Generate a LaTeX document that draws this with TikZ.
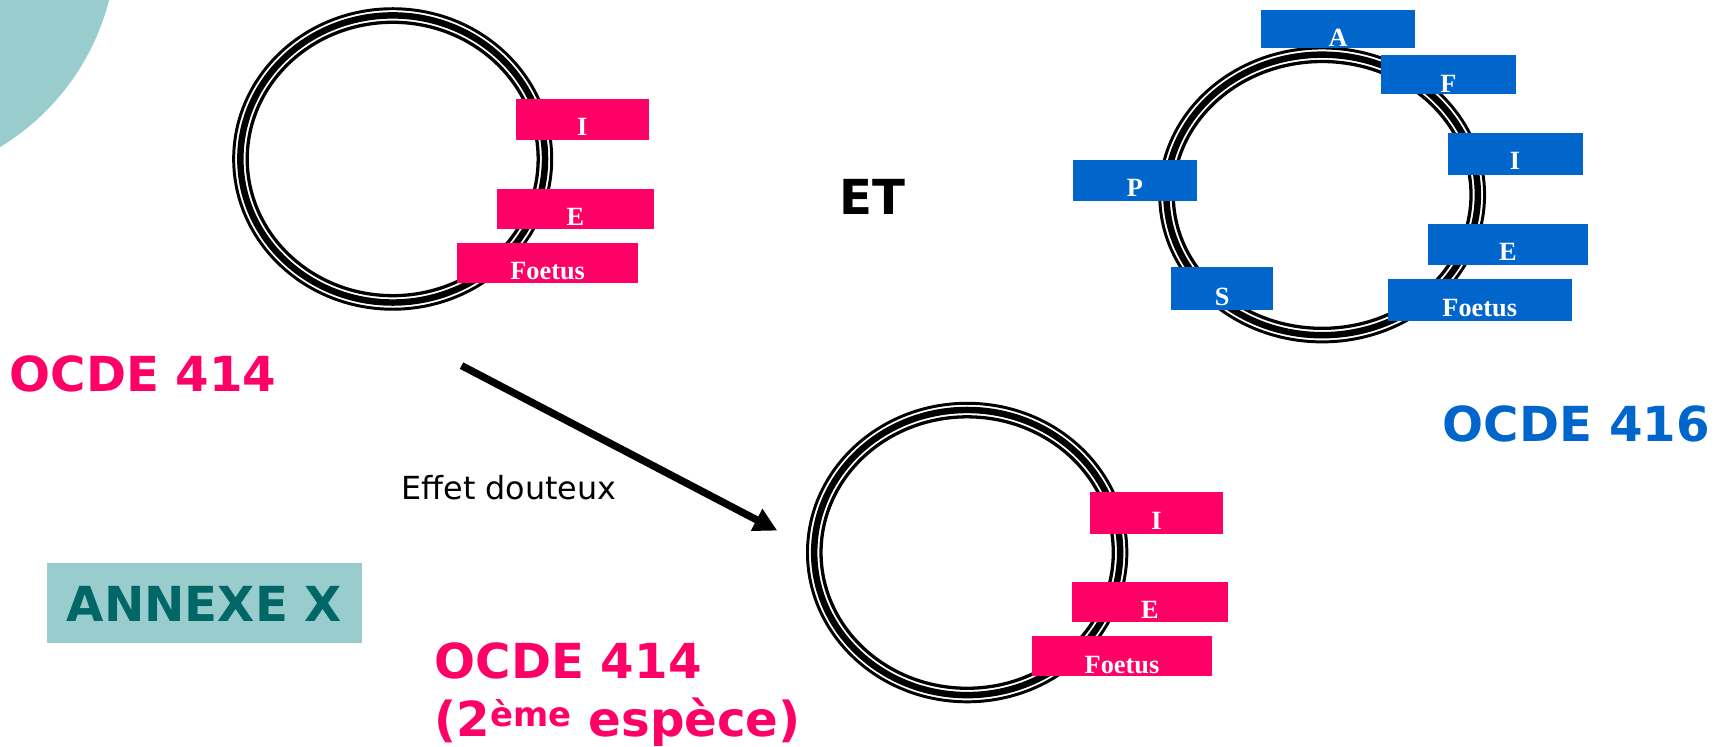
\documentclass[tikz,border=0pt]{standalone}
\usepackage{fontspec}
\setmainfont{Liberation Serif}
\newfontfamily\labelfont{DejaVu Sans}
\usetikzlibrary{arrows.meta}
\definecolor{rose}{HTML}{FF0066}
\definecolor{azur}{HTML}{0066CC}
\definecolor{tealbg}{HTML}{99CCCC}
\definecolor{tealdark}{HTML}{006666}
\tikzset{
  % triple membrane: thin outer line, thick middle line, thin inner line
  pics/ring/.style 2 args={code={
    \draw[line width=2.7pt] (0,0) ellipse [x radius=#1pt-1.35pt, y radius=#2pt-1.35pt];
    \draw[line width=5.9pt] (0,0) ellipse [x radius=#1pt-7.45pt, y radius=#2pt-7.45pt];
    \draw[line width=3pt]   (0,0) ellipse [x radius=#1pt-13.7pt, y radius=#2pt-13.7pt];
  }},
  tag/.style={inner sep=0pt, anchor=north west, text=white,
    font=\fontsize{24}{24}\selectfont\bfseries},
  pinktag/.style={tag, fill=rose},
  bluetag/.style={tag, fill=azur},
  biglabel/.style={inner sep=0pt, font=\labelfont\bfseries\fontsize{44}{53}\selectfont},
}
\begin{document}
\begin{tikzpicture}[x=1pt,y=-1pt]
\useasboundingbox (0,0) rectangle (1568,681);
\begin{scope}
  \clip (0,0) rectangle (1568,681);
  \fill[tealbg] (-114.3,-54.5) circle [radius=220.6pt];
\end{scope}

% rings
\pic at (358.2,145) {ring={146.4}{138.4}};
\pic at (1206,177.8) {ring={149.5}{135.4}};
\pic at (882.2,504) {ring={147}{137.5}};

% first species: OCDE 414
\node[pinktag, minimum width=121pt,   text height=33.4pt, text depth=4.6pt] (tI) at (470.4,89.7) {I};
\node[pinktag, minimum width=142.6pt, text height=34.1pt, text depth=2.4pt] (tE) at (453.4,171.8) {E};
\node[pinktag, minimum width=164.8pt, text height=33.8pt, text depth=3pt]   (tF) at (416.9,221) {Foetus};

% OCDE 416
\node[bluetag, minimum width=140.5pt, text height=33.5pt, text depth=0.6pt] (bA) at (1150.2,9.1) {A};
\node[bluetag, minimum width=123.1pt, text height=34pt,   text depth=0.9pt] (bF) at (1259.4,50.2) {F};
\node[bluetag, minimum width=123.2pt, text height=33.8pt, text depth=5.1pt] (bI) at (1320.2,120.7) {I};
\node[bluetag, minimum width=113.2pt, text height=34.1pt, text depth=3.7pt] (bP) at (978.4,145.3) {P};
\node[bluetag, minimum width=145.3pt, text height=33.5pt, text depth=4.5pt] (bE) at (1302.6,203.7) {E};
\node[bluetag, minimum width=92.7pt,  text height=34.9pt, text depth=4.6pt] (bS) at (1068.2,243.3) {S};
\node[bluetag, minimum width=168.1pt, text height=33.7pt, text depth=4.3pt] (bFo) at (1265.5,254.5) {Foetus};

% second species
\node[pinktag, minimum width=120.6pt, text height=33.7pt, text depth=4.3pt] (mI) at (994.3,448.8) {I};
\node[pinktag, minimum width=142.3pt, text height=33.4pt, text depth=3.1pt] (mE) at (977.5,530.6) {E};
\node[pinktag, minimum width=164.2pt, text height=34.1pt, text depth=2.4pt] (mF) at (941.1,580.1) {Foetus};

% labels
\node[biglabel, text=rose, anchor=base west] (l414) at (8.6,357.3) {OCDE 414};
\node[biglabel, text=black, anchor=base] (et) at (796,196) {ET};
\node[biglabel, text=azur, anchor=base west] (l416) at (1316,402.9) {OCDE 416};
\node[inner sep=0pt, anchor=base west, font=\labelfont\fontsize{29}{29}\selectfont] (doubt) at (366,456) {Effet douteux};

\fill[tealbg] (42.5,513.5) rectangle (330.6,586.8);
\node[biglabel, text=tealdark, anchor=base] (annexe) at (186.5,567.1) {ANNEXE X};

\node[biglabel, text=rose, anchor=base west] (l414b) at (396.4,618.8) {OCDE 414};
\node[biglabel, text=rose, anchor=base west] (l414c) at (396.4,672) {(2\textsuperscript{ème} espèce)};

% arrow towards the second species
\coordinate (arrS) at (421,333.5);
\coordinate (arrE) at (709,484);
\draw[line width=6.7pt, -{Triangle[length=21.3pt, width=21.3pt]}] (arrS) -- (arrE);
\end{tikzpicture}
\end{document}
